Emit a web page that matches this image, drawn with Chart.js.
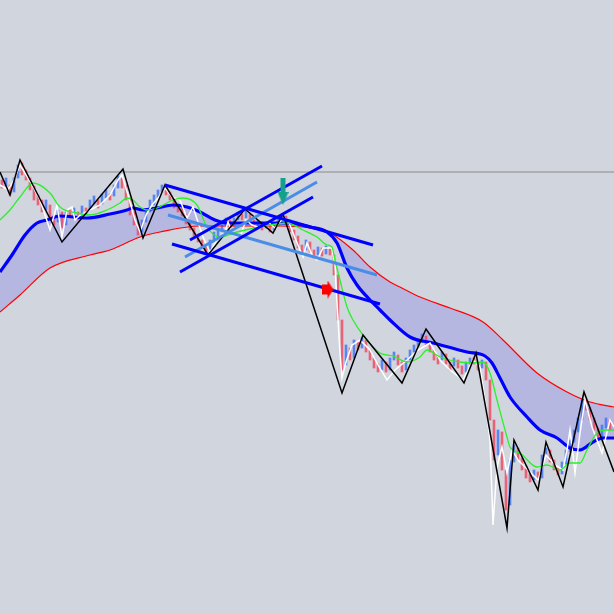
<!DOCTYPE html>
<html>
<head>
<meta charset="utf-8">
<script src="https://cdn.jsdelivr.net/npm/chart.js@4.4.1/dist/chart.umd.min.js"></script>
<style>
    html, body { margin: 0; padding: 0; background: #d1d5dd; }
    #chart { display: block; }
</style>
</head>
<body>
<canvas id="chart" width="614" height="614"></canvas>
<script>
// Candles (one every 4 time units), open / close prices
const candleOpen = [
    434, 428, 429, 422, 436, 451, 444, 436, 428, 419, 414, 404, 409, 399, 392, 402, 389, 404, 398, 402,
    396, 406, 404, 410, 414, 410, 416, 420, 418, 426, 436, 429, 416, 402, 392, 382, 392, 402, 409, 416,
    422, 428, 422, 416, 410, 406, 400, 392, 386, 380, 374, 368, 364, 372, 378, 384, 388, 394, 388, 394,
    400, 396, 400, 394, 388, 392, 386, 390, 384, 388, 394, 398, 392, 384, 378, 369, 364, 372, 364, 359,
    366, 360, 366, 359, 339, 294, 249, 266, 256, 272, 266, 274, 264, 256, 250, 244, 252, 244, 254, 259,
    252, 244, 254, 262, 268, 272, 278, 272, 264, 258, 254, 260, 252, 248, 254, 248, 242, 250, 256, 252,
    246, 252, 234, 194, 159, 182, 144, 109, 152, 166, 156, 148, 140, 134, 142, 136, 158, 164, 154, 146,
    140, 150, 162, 172, 182, 194, 214, 206, 196, 186, 176, 186, 194
];
const candleClose = [
    426, 436, 419, 436, 449, 439, 434, 424, 414, 409, 402, 414, 396, 389, 404, 386, 402, 396, 406, 394,
    408, 400, 414, 418, 406, 420, 424, 414, 429, 438, 426, 414, 399, 389, 379, 394, 404, 414, 419, 424,
    429, 419, 414, 406, 402, 398, 390, 384, 378, 372, 366, 362, 374, 382, 386, 390, 396, 386, 396, 402,
    394, 404, 392, 386, 394, 384, 392, 382, 390, 396, 400, 390, 382, 374, 366, 362, 374, 362, 356, 367,
    358, 368, 359, 339, 294, 244, 269, 254, 274, 264, 276, 262, 254, 246, 242, 254, 242, 256, 262, 249,
    242, 256, 264, 269, 274, 280, 269, 262, 254, 250, 262, 250, 244, 256, 246, 240, 252, 256, 250, 244,
    254, 234, 194, 154, 184, 144, 104, 154, 169, 154, 144, 136, 132, 144, 134, 159, 166, 152, 144, 139,
    152, 164, 174, 184, 196, 214, 204, 194, 184, 174, 189, 196, 184
];
const candleTime = candleOpen.map((_, i) => 2 + 4 * i);

// Close line (white)
const closeLine = [
    [0,429],[8,424],[14,434],[20,449],[28,436],[33,427],[40,414],[50,384],[57,409],[62,377],
    [67,404],[72,407],[75,394],[80,399],[90,404],[100,409],[110,419],[118,434],[122,439],[128,419],
    [135,394],[140,382],[146,399],[152,409],[158,416],[165,426],[172,417],[180,414],[187,396],[193,407],
    [203,377],[210,362],[218,376],[225,382],[228,392],[233,379],[240,377],[246,394],[252,389],[260,386],
    [268,392],[275,386],[283,396],[288,394],[295,376],[303,357],[307,371],[312,359],[317,354],[323,366],
    [332,366],[335,349],[337,311],[340,261],[342,236],[346,252],[352,269],[360,274],[370,264],[378,249],
    [387,234],[395,244],[407,254],[418,264],[430,271],[440,254],[450,244],[463,234],[473,254],[480,247],
    [485,214],[490,174],[493,89],[497,147],[502,167],[507,141],[512,164],[518,154],[528,144],[538,134],
    [546,159],[555,149],[563,144],[567,164],[570,184],[575,141],[580,181],[585,214],[592,187],[602,161],
    [610,194],[614,187]
];

// Moving averages
const fastMA = [
    [0,394],[10,404],[20,417],[33,431],[50,421],[60,407],[77,401],[90,399],[107,404],[120,411],
    [127,416],[133,414],[140,407],[147,404],[157,406],[173,414],[183,416],[197,409],[207,387],[220,377],
    [237,382],[260,387],[287,391],[303,384],[317,377],[327,369],[332,367],[335,354],[340,334],[347,307],
    [353,294],[363,279],[380,261],[393,258],[407,252],[420,257],[427,264],[440,257],[460,252],[473,251],
    [483,252],[490,241],[497,214],[507,177],[510,167],[520,161],[537,147],[547,149],[560,144],[570,151],
    [580,151],[587,164],[597,181],[607,184],[614,184]
];
const midMA = [
    [0,342],[12,359],[25,379],[37,391],[47,394],[60,398],[87,396],[110,400],[127,404],[133,406],
    [143,404],[157,406],[173,409],[187,407],[200,402],[215,394],[227,391],[260,391],[287,391],[310,387],
    [327,382],[337,371],[347,346],[357,329],[370,314],[380,304],[390,294],[410,277],[433,271],[467,262],
    [485,258],[492,251],[500,236],[510,217],[527,197],[540,184],[557,176],[570,166],[580,164],[593,172],
    [603,176],[614,176]
];
const slowMA = [
    [0,302],[20,319],[50,346],[90,359],[110,364],[140,377],[160,382],[200,388],[240,388],[280,388],
    [310,386],[330,381],[353,364],[370,347],[390,332],[400,327],[420,317],[450,306],[483,292],[503,274],
    [537,241],[567,222],[590,212],[614,207]
];

// ZigZag swing points
const zigzag = [
    [0,442],[10,419],[20,454],[62,372],[123,445],[143,376],[165,429],[208,359],[245,405],[273,381],
    [283,400],[342,221],[363,279],[402,231],[426,285],[464,231],[476,261],[507,86],[514,174],[538,124],
    [546,172],[563,127],[584,222],[614,142]
];

// Trend lines [start, end]
const trendDark = [
    [[165,429],[373,369]],
    [[190,374],[322,448]],
    [[180,342],[313,417]],
    [[172,370],[380,310]]
];
const trendLight = [
    [[185,357],[317,432]],
    [[168,399],[377,339]]
];

const levelLine = 442;
const sellArrow = [283, 422.5];
const markArrow = [327.5, 324.5];

const toXY = pts => pts.map(p => ({ x: p[0], y: p[1] }));

// Arrow markers drawn on small canvases, used as point styles
function arrowDown(color) {
    const c = document.createElement('canvas');
    c.width = 11; c.height = 27;
    const g = c.getContext('2d');
    g.fillStyle = color;
    g.fillRect(3, 0, 5, 15);
    g.beginPath();
    g.moveTo(0, 14); g.lineTo(11, 14); g.lineTo(5.5, 27); g.closePath();
    g.fill();
    return c;
}
function arrowRight(color) {
    const c = document.createElement('canvas');
    c.width = 12; c.height = 18;
    const g = c.getContext('2d');
    g.fillStyle = color;
    g.fillRect(0, 4, 7, 10);
    g.beginPath();
    g.moveTo(6, 0); g.lineTo(6, 18); g.lineTo(12, 9); g.closePath();
    g.fill();
    return c;
}

const datasets = [];
// order: lower number is drawn on top
trendDark.forEach(seg => datasets.push({
    type: 'line', data: toXY(seg), borderColor: '#0000ff', borderWidth: 3,
    pointRadius: 0, fill: false, order: 2
}));
trendLight.forEach(seg => datasets.push({
    type: 'line', data: toXY(seg), borderColor: '#4a8de6', borderWidth: 3,
    pointRadius: 0, fill: false, order: 2
}));
datasets.push({
    type: 'scatter', data: [{ x: sellArrow[0], y: sellArrow[1] }],
    pointStyle: arrowDown('#14a08a'), pointRadius: 10, order: 0
});
datasets.push({
    type: 'scatter', data: [{ x: markArrow[0], y: markArrow[1] }],
    pointStyle: arrowRight('#ff0000'), pointRadius: 10, order: 0
});
datasets.push({
    type: 'line', data: toXY(zigzag), borderColor: '#000000', borderWidth: 1.5,
    pointRadius: 0, fill: false, order: 3
});
datasets.push({
    type: 'line', data: toXY(closeLine), borderColor: '#ffffff', borderWidth: 1.5,
    pointRadius: 0, fill: false, order: 5
});
datasets.push({
    type: 'line', data: toXY(fastMA), borderColor: '#2af02a', borderWidth: 1.3,
    pointRadius: 0, fill: false, cubicInterpolationMode: 'monotone', order: 4
});
datasets.push({
    type: 'bar',
    data: candleTime.map((t, i) => ({ x: t, y: [candleOpen[i], candleClose[i]] })),
    backgroundColor: candleTime.map((t, i) => candleClose[i] >= candleOpen[i] ? 'rgba(60,110,250,0.8)' : 'rgba(238,70,95,0.8)'),
    barThickness: 2, order: 7
});
const slowIndex = datasets.length + 1;
datasets.push({
    type: 'line', data: toXY(midMA), borderColor: '#0000ff', borderWidth: 3.2,
    pointRadius: 0, cubicInterpolationMode: 'monotone', order: 6,
    fill: { target: slowIndex, above: 'rgba(165,165,228,0.62)', below: 'rgba(165,165,228,0.62)' }
});
datasets.push({
    type: 'line', data: toXY(slowMA), borderColor: '#ff0000', borderWidth: 1.2,
    pointRadius: 0, cubicInterpolationMode: 'monotone', fill: false, order: 6
});
datasets.push({
    type: 'line', data: [{ x: 0, y: levelLine }, { x: 614, y: levelLine }],
    borderColor: '#8a8a8a', borderWidth: 1, pointRadius: 0, fill: false, order: 9
});

new Chart(document.getElementById('chart'), {
    type: 'line',
    data: { datasets: datasets },
    options: {
        responsive: false,
        animation: false,
        layout: { padding: 0, autoPadding: false },
        scales: {
            x: { type: 'linear', min: 0, max: 614, offset: false, display: false },
            y: { type: 'linear', min: 0, max: 614, display: false }
        },
        plugins: {
            legend: { display: false },
            tooltip: { enabled: false },
            filler: { drawTime: 'beforeDatasetsDraw' }
        }
    }
});
</script>
</body>
</html>
